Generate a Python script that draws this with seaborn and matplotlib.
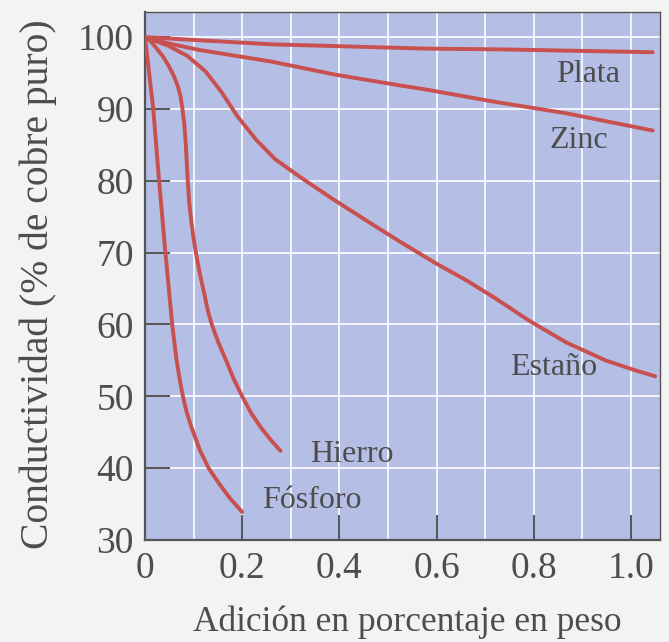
import matplotlib
matplotlib.use("Agg")
import matplotlib.pyplot as plt
import seaborn as sns
import pandas as pd
from matplotlib.ticker import MultipleLocator

# ---- data ----
plata_x = [0.0, 0.26, 0.58, 0.73, 1.045]
plata_y = [100.0, 99.0, 98.4, 98.3, 97.9]

zinc_x = [0.0, 0.05, 0.113, 0.260, 0.390, 0.523, 0.579, 0.720, 0.867, 1.045]
zinc_y = [100.0, 99.1, 98.2, 96.6, 94.8, 93.3, 92.7, 91.0, 89.4, 87.0]

estano_x = [0.0, 0.048, 0.087, 0.125, 0.158, 0.190, 0.229, 0.268, 0.322, 0.388,
            0.455, 0.523, 0.594, 0.660, 0.720, 0.789, 0.867, 0.948, 1.010, 1.050]
estano_y = [100.0, 98.8, 97.4, 95.2, 92.3, 89.0, 85.7, 83.0, 80.4, 77.4,
            74.5, 71.6, 68.7, 66.2, 63.7, 60.6, 57.5, 55.0, 53.6, 52.8]

hierro_x = [0.0, 0.012, 0.023, 0.036, 0.048, 0.058, 0.067, 0.073, 0.077, 0.081,
            0.084, 0.086, 0.088, 0.091, 0.095, 0.100, 0.106, 0.113, 0.122, 0.129,
            0.137, 0.151, 0.167, 0.182, 0.200, 0.219, 0.238, 0.258, 0.279]
hierro_y = [100.0, 99.4, 98.5, 97.4, 96.1, 94.8, 93.3, 91.8, 90.1, 87.8,
            85.0, 82.5, 80.0, 77.0, 74.5, 72.0, 69.5, 67.0, 64.3, 62.0,
            60.1, 57.5, 55.0, 52.5, 50.0, 47.6, 45.7, 44.0, 42.4]

fosforo_x = [0.0, 0.017, 0.029, 0.042, 0.049, 0.056, 0.065, 0.071, 0.078, 0.085,
             0.094, 0.113, 0.131, 0.152, 0.175, 0.200]
fosforo_y = [100.0, 90.0, 80.0, 70.0, 65.0, 60.0, 55.0, 52.5, 50.0, 48.0,
             46.0, 42.5, 40.0, 37.9, 35.8, 33.9]

series_names = ["Plata", "Zinc", "Estaño", "Hierro", "Fósforo"]
series_x = [plata_x, zinc_x, estano_x, hierro_x, fosforo_x]
series_y = [plata_y, zinc_y, estano_y, hierro_y, fosforo_y]

# label anchor positions (left edge, vertical centre) in data units
label_x = [0.846, 0.833, 0.751, 0.340, 0.241]
label_y = [94.8, 85.6, 54.0, 41.9, 35.5]

x_ticks = [0, 0.2, 0.4, 0.6, 0.8, 1.0]
x_tick_labels = ["0", "0.2", "0.4", "0.6", "0.8", "1.0"]
y_ticks = [30, 40, 50, 60, 70, 80, 90, 100]

xlabel = "Adición en porcentaje en peso"
ylabel = "Conductividad (% de cobre puro)"

# ---- build long table ----
rows = []
for name, xs, ys in zip(series_names, series_x, series_y):
    for i, (x, y) in enumerate(zip(xs, ys)):
        rows.append({"serie": name, "orden": i, "x": x, "y": y})
df = pd.DataFrame(rows)

sns.set_style("white")
plt.rcParams["font.family"] = ["Liberation Serif", "DejaVu Serif"]

text_color = "#4d4d4d"
line_color = "#c8504e"

fig = plt.figure(figsize=(6.69, 6.42), dpi=100, facecolor="#f3f3f3")
ax = fig.add_axes([145 / 669, 102 / 642, 515 / 669, 528 / 642])
ax.set_facecolor("#b5bfe5")

sns.lineplot(data=df, x="x", y="y", hue="serie", units="serie", estimator=None,
             sort=False, palette={n: line_color for n in series_names},
             linewidth=2.8, legend=False, ax=ax, zorder=3)
for ln in ax.get_lines():
    ln.set_solid_joinstyle("round")
    ln.set_solid_capstyle("round")

for name, lx, ly in zip(series_names, label_x, label_y):
    ax.text(lx, ly, name, fontsize=23, color=text_color, ha="left", va="center", zorder=4)

ax.set_xlim(0, 1.06)
ax.set_ylim(30, 103.5)
ax.set_xticks(x_ticks)
ax.set_xticklabels(x_tick_labels)
ax.set_yticks(y_ticks)
ax.xaxis.set_minor_locator(MultipleLocator(0.1))

ax.set_axisbelow(True)
ax.grid(which="both", axis="x", color="white", linewidth=1.3, alpha=0.9)
ax.grid(which="major", axis="y", color="white", linewidth=1.3, alpha=0.9)

ax.tick_params(axis="both", which="major", direction="in", length=18, width=1.4,
               color="#555555", labelsize=27, labelcolor=text_color, pad=8,
               left=True, bottom=True, top=False, right=False)
ax.tick_params(axis="both", which="minor", length=0, left=False, bottom=False)

for side, sp in ax.spines.items():
    sp.set_color("#555555")
    sp.set_linewidth(1.6 if side in ("left", "bottom") else 1.0)

ax.set_xlabel(xlabel, fontsize=25.5, color=text_color, va="center")
ax.xaxis.set_label_coords(0.509, -0.155)
ax.set_ylabel(ylabel, fontsize=28.5, color=text_color, va="center")
ax.yaxis.set_label_coords(-0.208, 0.485)

fig.savefig("out.png", dpi=100, facecolor=fig.get_facecolor())
